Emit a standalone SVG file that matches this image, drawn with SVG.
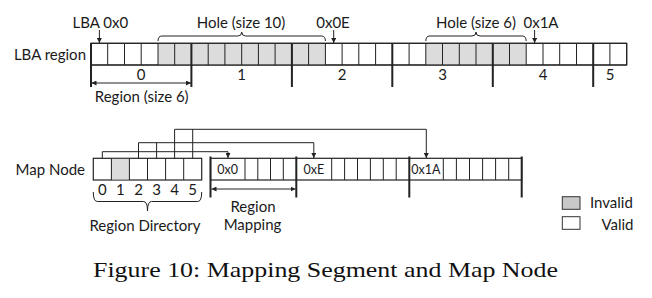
<svg xmlns="http://www.w3.org/2000/svg" width="652" height="298" viewBox="0 0 652 298">
<defs>
<style>
.t{font-family:Lato,"Liberation Sans",sans-serif;fill:#1a1a1a;font-size:15px}
.s{font-size:12.5px}
.cap{font-family:"Liberation Serif","DejaVu Serif",serif;font-size:21px;fill:#111}
.thin{stroke:#222;stroke-width:1;fill:none}
.thick{stroke:#222;stroke-width:2;fill:none}
.box{stroke:#222;stroke-width:1.2;fill:#fff}
.inv{fill:#dcdcdc}
.con{stroke:#222;stroke-width:1;fill:none}
</style>
<marker id="ah" viewBox="0 0 10 10" refX="10" refY="5" markerWidth="5" markerHeight="5" orient="auto-start-reverse" markerUnits="userSpaceOnUse">
<path d="M0,0 L10,5 L0,10 Z" fill="#222"/>
</marker>
</defs>
<rect width="652" height="298" fill="#fff"/>

<g id="lba-region">
<rect class="box" x="91" y="43.3" width="535.7" height="21.7"/>
<rect class="inv" x="158" y="43.8" width="167.4" height="20.7"/>
<rect class="inv" x="425.8" y="43.8" width="100.4" height="20.7"/>
<path class="thin" d="M107.7,43.3V65M124.5,43.3V65M141.2,43.3V65M158,43.3V65M174.7,43.3V65M208.2,43.3V65M224.9,43.3V65M241.7,43.3V65M258.4,43.3V65M275.1,43.3V65M308.6,43.3V65M325.4,43.3V65M342.1,43.3V65M358.8,43.3V65M375.6,43.3V65M409.1,43.3V65M425.8,43.3V65M442.5,43.3V65M459.3,43.3V65M476,43.3V65M509.5,43.3V65M526.2,43.3V65M543,43.3V65M559.7,43.3V65M576.5,43.3V65M609.9,43.3V65"/>
<path class="thin" d="M91,43.3H626.7V65H91"/>
<path class="thick" d="M91,43V87M191.4,43V87M291.9,43V87M392.3,43V87M492.8,43V87M593.2,43V87"/>
<text class="t" x="86" y="60" text-anchor="end">LBA region</text>
<text class="t" x="141.2" y="80" text-anchor="middle">0</text>
<text class="t" x="241.7" y="80" text-anchor="middle">1</text>
<text class="t" x="342.1" y="80" text-anchor="middle">2</text>
<text class="t" x="442.5" y="80" text-anchor="middle">3</text>
<text class="t" x="543" y="80" text-anchor="middle">4</text>
<text class="t" x="610" y="80" text-anchor="middle">5</text>
<text class="t" x="100.3" y="28" text-anchor="middle">LBA 0x0</text>
<text class="t" x="241" y="28" text-anchor="middle">Hole (size 10)</text>
<text class="t" x="333" y="28" text-anchor="middle">0x0E</text>
<text class="t" x="476" y="28" text-anchor="middle">Hole (size 6)</text>
<text class="t" x="523.5" y="28">0x1A</text>
<text class="t" x="141.7" y="102" text-anchor="middle">Region (size 6)</text>
<path class="thin" d="M158,41 Q158,36 162,36 H237.7 Q241.7,36 241.7,32 Q241.7,36 245.7,36 H321.4 Q325.4,36 325.4,41"/>
<path class="thin" d="M425.8,41 Q425.8,36 429.8,36 H472 Q476,36 476,32 Q476,36 480,36 H522.2 Q526.2,36 526.2,41"/>
</g>

<g id="map-node">
<rect class="box" x="93.3" y="158.3" width="108.4" height="21.7"/>
<rect class="inv" x="111.4" y="158.9" width="18" height="20.5"/>
<path class="thin" d="M111.4,158.3V180M129.4,158.3V180M147.5,158.3V180M165.6,158.3V180M183.7,158.3V180"/>
<text class="t" x="85" y="175" text-anchor="end">Map Node</text>
<text class="t" x="102.3" y="194.5" text-anchor="middle">0</text>
<text class="t" x="120.4" y="194.5" text-anchor="middle">1</text>
<text class="t" x="138.5" y="194.5" text-anchor="middle">2</text>
<text class="t" x="156.6" y="194.5" text-anchor="middle">3</text>
<text class="t" x="174.6" y="194.5" text-anchor="middle">4</text>
<text class="t" x="192.7" y="194.5" text-anchor="middle">5</text>
<path class="thin" d="M93.3,192 Q93.3,201.5 97.3,201.5 H143.5 Q147.5,201.5 147.5,211 Q147.5,201.5 151.5,201.5 H197.7 Q201.7,201.5 201.7,192"/>
<text class="t" x="145" y="231" text-anchor="middle">Region Directory</text>
</g>

<g id="region-mapping">
<rect class="box" x="210.5" y="158.3" width="311.2" height="21.7"/>
<path class="thin" d="M245,158.3V180M257.8,158.3V180M270.5,158.3V180M283.3,158.3V180M331.7,158.3V180M344.6,158.3V180M357.5,158.3V180M370.4,158.3V180M383.3,158.3V180M396.2,158.3V180M443.3,158.3V180M456.4,158.3V180M469.5,158.3V180M482.6,158.3V180M495.6,158.3V180M508.7,158.3V180"/>
<path class="thick" d="M210.5,156.5V197.5M296.3,156.5V197.5M409.3,156.5V197.5M521.7,156.5V197.5"/>
<text class="t s" x="227.7" y="174" text-anchor="middle">0x0</text>
<text class="t s" x="313.8" y="174" text-anchor="middle">0xE</text>
<text class="t s" x="425.8" y="174" text-anchor="middle">0x1A</text>
<text class="t" x="253" y="212" text-anchor="middle">Region</text>
<text class="t" x="252.5" y="229.5" text-anchor="middle">Mapping</text>
</g>

<g id="legend">
<rect x="562.3" y="196.7" width="17.7" height="12.6" fill="#c8c8c8" stroke="#333" stroke-width="1"/>
<rect x="562.3" y="216.7" width="17.7" height="12.6" fill="#fff" stroke="#333" stroke-width="1"/>
<text class="t" x="590" y="207.5">Invalid</text>
<text class="t" x="633.5" y="230" text-anchor="end">Valid</text>
</g>

<g id="connectors">
<path class="con" d="M99.4,30V43" marker-end="url(#ah)"/>
<path class="con" d="M333.7,30V43" marker-end="url(#ah)"/>
<path class="con" d="M534.6,30V43" marker-end="url(#ah)"/>
<path class="con" d="M91.5,83H191" marker-start="url(#ah)" marker-end="url(#ah)"/>
<path class="con" d="M211.5,189H295.5" marker-start="url(#ah)" marker-end="url(#ah)"/>
<path class="con" d="M102.3,158.3V151.7H228V158" marker-end="url(#ah)"/>
<path class="con" d="M138.5,158.3V142.7H313.8V158" marker-end="url(#ah)"/>
<path class="con" d="M156.6,158.3V142.7"/>
<path class="con" d="M174.6,158.3V129.3H426.3V158" marker-end="url(#ah)"/>
<path class="con" d="M192.7,158.3V129.3"/>
</g>

<text class="cap" x="93" y="277" textLength="465" lengthAdjust="spacingAndGlyphs">Figure 10: Mapping Segment and Map Node</text>
</svg>
